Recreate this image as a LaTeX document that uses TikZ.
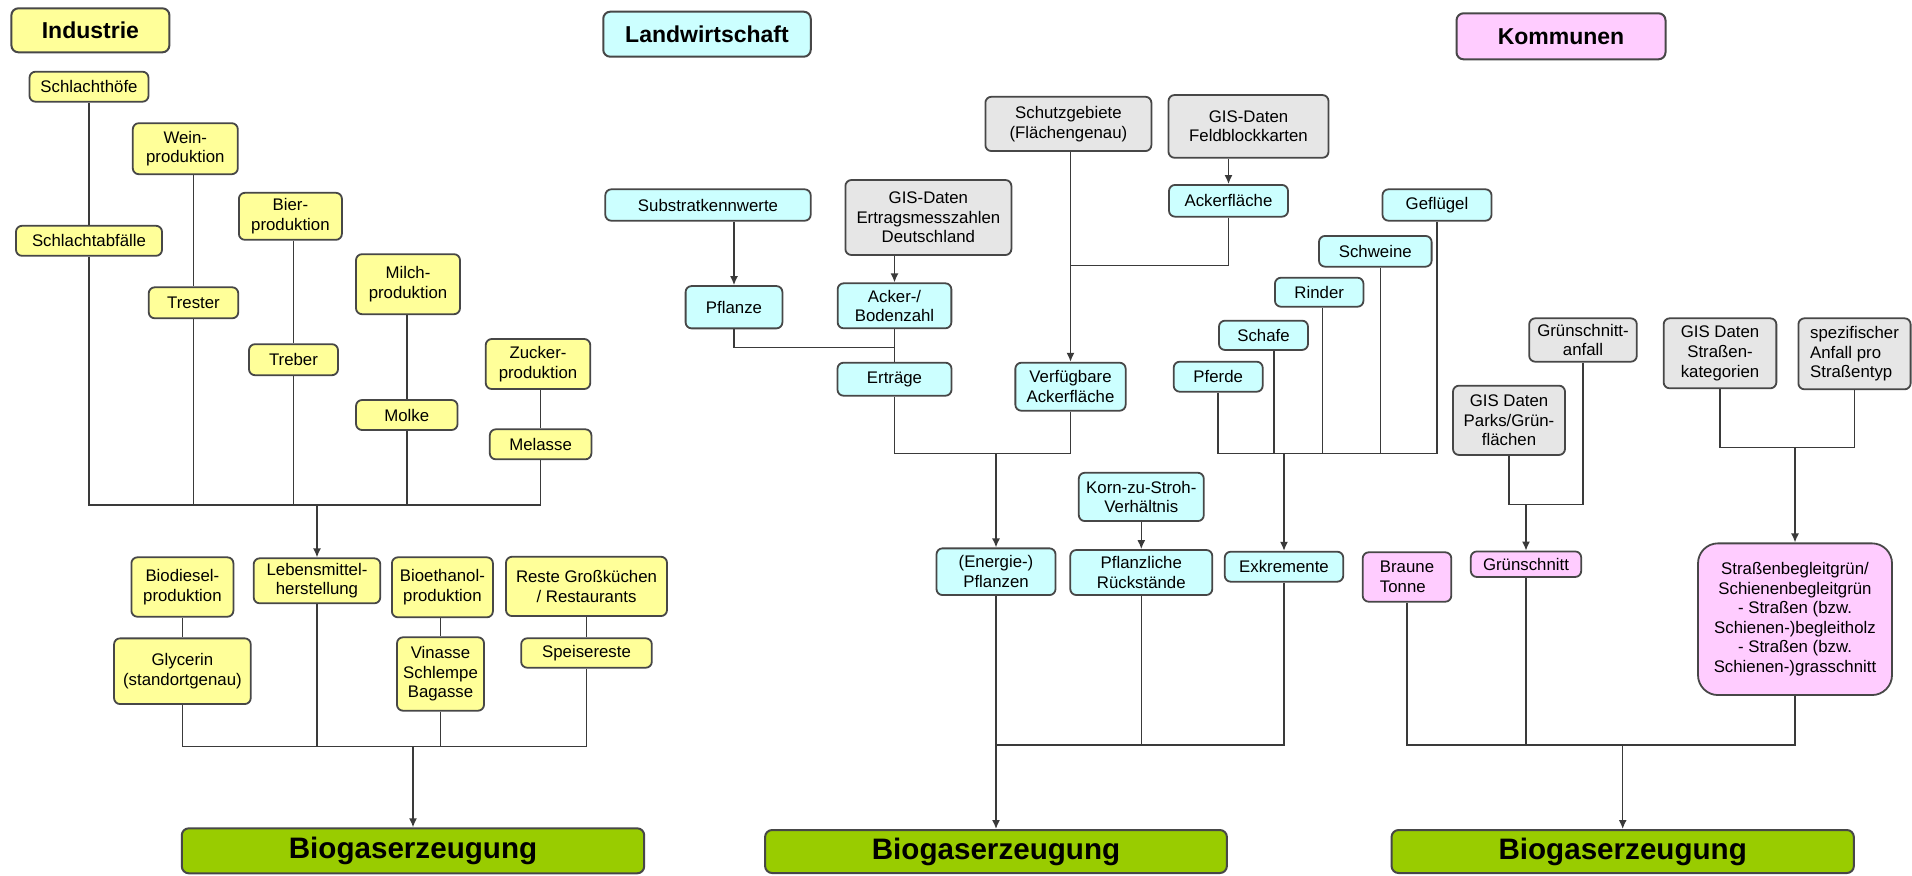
\documentclass[tikz,border=0pt]{standalone}
\usepackage{fontspec}
\setmainfont{Liberation Sans}
\usetikzlibrary{arrows.meta}
\definecolor{yfill}{HTML}{FFFF99}
\definecolor{cfill}{HTML}{CCFFFF}
\definecolor{gfill}{HTML}{E6E6E6}
\definecolor{pfill}{HTML}{FFCCFF}
\definecolor{bgreen}{HTML}{99CC00}
\definecolor{edge}{HTML}{474747}
\definecolor{wirec}{HTML}{3A3A3A}
\begin{document}
\begin{tikzpicture}[x=0.5pt, y=-0.5pt,
  box/.style={draw=edge, line width=0.9pt, rounded corners=3pt, inner sep=1pt, align=center,
              font=\fontsize{8.4}{9.8}\selectfont},
  wh/.style 2 args={minimum width={#1*0.5pt}, minimum height={#2*0.5pt}},
  ybox/.style={box, fill=yfill},
  cbox/.style={box, fill=cfill},
  gbox/.style={box, fill=gfill},
  pbox/.style={box, fill=pfill},
  title/.style={draw=edge, line width=1pt, rounded corners=3.5pt,
                font=\fontsize{11.5}{13}\selectfont\bfseries},
  biogas/.style={draw=edge, line width=1pt, rounded corners=3.5pt, fill=bgreen,
                 font=\fontsize{14.8}{17}\selectfont\bfseries},
  wire/.style={draw=wirec, line width=0.75pt},
  arr/.style={wire, -{Latex[length=4.5pt,width=4pt]}}
]
\fill[white] (0,0) rectangle (1912,875);
\useasboundingbox (0,0) rectangle (1912,875);

% ---------------- Industrie ----------------
\node[title, fill=yfill, wh={158}{44}] (tind) at (90.4,30.3) {Industrie};
\node[ybox, wh={119}{30}] (schlhoefe) at (89,86.7) {Schlachthöfe};
\node[ybox, wh={105}{51}] (wein) at (185.3,148.7) {Wein-\\produktion};
\node[ybox, wh={103}{47}] (bier) at (290.4,216.3) {Bier-\\produktion};
\node[ybox, wh={146}{30}] (schlabf) at (89,240.8) {Schlachtabfälle};
\node[ybox, wh={89.5}{31}] (trester) at (193.5,302.8) {Trester};
\node[ybox, wh={104}{60}] (milch) at (408,284.2) {Milch-\\produktion};
\node[ybox, wh={89}{31}] (treber) at (293.5,359.7) {Treber};
\node[ybox, wh={104.5}{50}] (zucker) at (538,364) {Zucker-\\produktion};
\node[ybox, wh={101.5}{30}] (molke) at (406.8,415) {Molke};
\node[ybox, wh={101.6}{30}] (melasse) at (540.6,444.3) {Melasse};

\draw[wire] (schlhoefe.south -| schlabf.north) -- (schlabf.north);
\draw[wire] (wein.south -| trester.north) -- (trester.north);
\draw[wire] (bier.south -| treber.north) -- (treber.north);
\draw[wire] (milch.south -| molke.north) -- (molke.north);
\draw[wire] (zucker.south -| melasse.north) -- (melasse.north);

\node[ybox, wh={102}{59.4}] (biodiesel) at (182.4,587) {Biodiesel-\\produktion};
\node[ybox, wh={126.6}{45}] (lebens) at (317,580.8) {Lebensmittel-\\herstellung};
\node[ybox, wh={101}{60}] (bioeth) at (442.4,587.3) {Bioethanol-\\produktion};
\node[ybox, wh={161}{59.3}] (reste) at (586.5,586.4) {Reste Großküchen\\/ Restaurants};
\node[ybox, wh={136.7}{65.7}] (glycerin) at (182.4,671.2) {Glycerin\\(standortgenau)};
\node[ybox, wh={87}{73.4}] (vinasse) at (440.5,674) {Vinasse\\Schlempe\\Bagasse};
\node[ybox, wh={130.6}{29.4}] (speise) at (586.5,653) {Speisereste};

\coordinate (busI) at (317,505);
\foreach \n in {schlabf,trester,treber,molke,melasse}
  \draw[wire] (\n.south) |- (busI);
\draw[arr] (busI) -- (lebens.north);

\draw[wire] (biodiesel.south) -- (glycerin.north);
\draw[wire] (bioeth.south -| vinasse.north) -- (vinasse.north);
\draw[wire] (reste.south) -- (speise.north);

\node[biogas, wh={462.4}{45}] (bio1) at (413,850.8) {Biogaserzeugung};
\coordinate (busI2) at (413,746.7);
\foreach \n in {glycerin,lebens,vinasse,speise}
  \draw[wire] (\n.south) |- (busI2);
\draw[arr] (busI2) -- (bio1.north);

% ---------------- Landwirtschaft ----------------
\node[title, fill=cfill, wh={207.5}{45}] (tland) at (707,34.2) {Landwirtschaft};
\node[gbox, wh={166}{54.3}] (schutz) at (1068.4,123.9) {Schutzgebiete\\(Flächengenau)};
\node[gbox, wh={160}{62.7}] (feld) at (1248.5,126.4) {GIS-Daten\\Feldblockkarten};
\node[cbox, wh={205.4}{31.4}] (substrat) at (708,205) {Substratkennwerte};
\node[gbox, wh={166}{75}] (gisertrag) at (928.4,217.5) {GIS-Daten\\Ertragsmesszahlen\\Deutschland};
\node[cbox, wh={96.8}{42.3}] (pflanze) at (734,307.2) {Pflanze};
\node[cbox, wh={113.7}{45}] (ackerboden) at (894.5,305.8) {Acker-/\\Bodenzahl};
\node[cbox, wh={114}{33}] (ertraege) at (894.5,379.2) {Erträge};
\node[cbox, wh={119}{31.7}] (ackerfl) at (1228.5,200.8) {Ackerfläche};
\node[cbox, wh={110.3}{48}] (verfueg) at (1070.5,386.7) {Verfügbare\\Ackerfläche};

\draw[arr] (substrat.south -| pflanze.north) -- (pflanze.north);
\draw[arr] (gisertrag.south -| ackerboden.north) -- (ackerboden.north);
\coordinate (jE) at (894.5,347.3);
\draw[wire] (pflanze.south) |- (jE);
\draw[wire] (ackerboden.south) -- (ertraege.north);
\draw[arr] (feld.south -| ackerfl.north) -- (ackerfl.north);
\coordinate (jS) at (1070.5,265.7);
\draw[wire] (ackerfl.south) |- (jS);
\draw[arr] (schutz.south -| verfueg.north) -- (verfueg.north);

\node[cbox, wh={109}{31.4}] (gefluegel) at (1437,205) {Geflügel};
\node[cbox, wh={112.6}{30.7}] (schweine) at (1375.3,251.3) {Schweine};
\node[cbox, wh={88.5}{29}] (rinder) at (1319.2,292.2) {Rinder};
\node[cbox, wh={89}{29.3}] (schafe) at (1263.5,335.3) {Schafe};
\node[cbox, wh={89}{30}] (pferde) at (1218.2,376.7) {Pferde};
\node[cbox, wh={118.5}{30}] (exkr) at (1284,566.7) {Exkremente};

\coordinate (tbus) at (1284,453.3);
\draw[wire] (pferde.south) |- (tbus);
\draw[wire] ([xshift=5.25pt]schafe.south) |- (tbus);
\draw[wire] ([xshift=1.7pt]rinder.south) |- (tbus);
\draw[wire] ([xshift=2.7pt]schweine.south) |- (tbus);
\draw[wire] (gefluegel.south) |- (tbus);
\draw[arr] (tbus) -- (exkr.north);

\coordinate (busL1) at (996,453.3);
\draw[wire] (ertraege.south) |- (busL1);
\draw[wire] (verfueg.south) |- (busL1);
\node[cbox, wh={119}{46.7}] (energie) at (996,571.7) {(Energie-)\\Pflanzen};
\draw[arr] (busL1) -- (energie.north);
\node[cbox, wh={125}{48.3}] (korn) at (1141.3,496.9) {Korn-zu-Stroh-\\Verhältnis};
\node[cbox, wh={142}{45}] (pflanzl) at (1141.3,572.5) {Pflanzliche\\Rückstände};
\draw[arr] (korn.south) -- (pflanzl.north);

\node[biogas, wh={461.8}{43}] (bio2) at (996,851.5) {Biogaserzeugung};
\coordinate (busL2) at (996,745);
\draw[wire] (pflanzl.south) |- (busL2);
\draw[wire] (exkr.south) |- (busL2);
\draw[arr] (energie.south) -- (bio2.north);

% ---------------- Kommunen ----------------
\node[title, fill=pfill, wh={209}{46}] (tkom) at (1561,36.3) {Kommunen};
\node[gbox, wh={107.6}{43.4}] (gruenanf) at (1583,340) {Grünschnitt-\\anfall};
\node[gbox, wh={112.7}{70}] (gisstr) at (1720,353.3) {GIS Daten\\Straßen-\\kategorien};
\node[gbox, wh={112.2}{71}, align=left] (spez) at (1854.5,353.8) {spezifischer\\Anfall pro\\Straßentyp};
\node[gbox, wh={112}{69.3}] (parks) at (1509,420.3) {GIS Daten\\Parks/Grün-\\flächen};

\coordinate (busK1) at (1526,504.3);
\draw[wire] (parks.south) |- (busK1);
\draw[wire] (gruenanf.south) |- (busK1);
\node[pbox, wh={110.4}{25.5}] (gruen) at (1526,564.2) {Grünschnitt};
\draw[arr] (busK1) -- (gruen.north);

\coordinate (busK2) at (1795,447.3);
\draw[wire] (gisstr.south) |- (busK2);
\draw[wire] (spez.south) |- (busK2);
\node[pbox, wh={194}{151.7}, rounded corners=10pt] (strgruen) at (1795,619.2)
  {Straßenbegleitgrün/\\Schienenbegleitgrün\\- Straßen (bzw.\\Schienen-)begleitholz\\- Straßen (bzw.\\Schienen-)grasschnitt};
\draw[arr] (busK2) -- (strgruen.north);

\node[pbox, wh={88.6}{49.4}, align=left] (braune) at (1407,577) {Braune\\Tonne};

\node[biogas, wh={462.3}{43}] (bio3) at (1622.7,851.5) {Biogaserzeugung};
\coordinate (busK3) at (1622.7,745);
\draw[wire] (braune.south) |- (busK3);
\draw[wire] (gruen.south) |- (busK3);
\draw[wire] (strgruen.south) |- (busK3);
\draw[arr] (busK3) -- (bio3.north);
\end{tikzpicture}
\end{document}
